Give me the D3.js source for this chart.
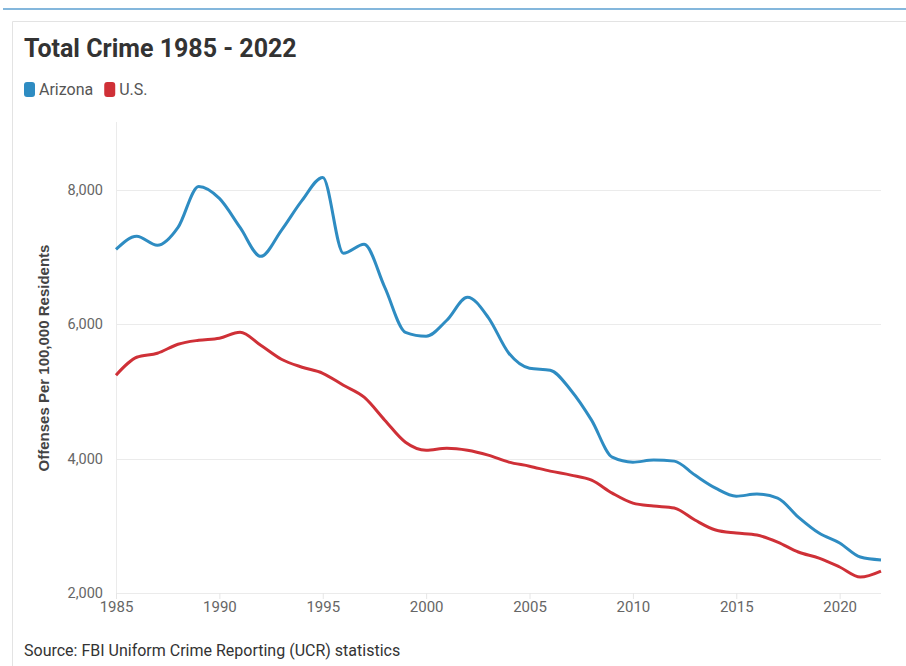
<!DOCTYPE html>
<html>
<head>
<meta charset="utf-8">
<script src="https://cdn.jsdelivr.net/npm/d3@7"></script>
<style>
  html, body { margin: 0; padding: 0; background: #fff; }
  body { width: 906px; height: 666px; overflow: hidden; font-family: Roboto, "Noto Sans", sans-serif; }
</style>
</head>
<body>
<div id="chart"></div>
<script>
const years = d3.range(1985, 2023);
const arizona = [7115, 7309, 7175, 7442, 8052, 7874, 7442, 7011, 7398, 7844,
  8186, 7056, 7190, 6550, 5881, 5822, 6060, 6402, 6104, 5569,
  5346, 5316, 5019, 4573, 4022, 3948, 3978, 3963, 3755, 3561,
  3442, 3472, 3413, 3130, 2892, 2744, 2535, 2491];
const us = [5242, 5509, 5569, 5703, 5762, 5792, 5881, 5688, 5480, 5361,
  5271, 5093, 4915, 4573, 4245, 4126, 4156, 4126, 4052, 3948,
  3888, 3814, 3755, 3680, 3487, 3338, 3294, 3264, 3086, 2937,
  2892, 2862, 2758, 2610, 2520, 2387, 2238, 2327];
const yTicks = [2000, 4000, 6000, 8000];
const xTicks = [1985, 1990, 1995, 2000, 2005, 2010, 2015, 2020];
const series = [
  { name: 'Arizona', values: arizona, color: '#2e8cc2' },
  { name: 'U.S.', values: us, color: '#cf3037' }
];

const W = 906, H = 666;
const svg = d3.select('#chart').append('svg')
  .attr('width', W).attr('height', H);

// top accent line and card border
svg.append('line').attr('x1', 3).attr('x2', W).attr('y1', 9).attr('y2', 9)
  .attr('stroke', '#5b9fd0').attr('stroke-width', 1.5);
svg.append('path').attr('d', `M12.5,${H} V21.5 H${W}`)
  .attr('fill', 'none').attr('stroke', '#e3e3e3').attr('stroke-width', 1);

svg.append('text').attr('x', 24).attr('y', 57)
  .style('font-size', '25px').style('font-weight', 'bold').attr('fill', '#333')
  .text('Total Crime 1985 - 2022');

// legend
const leg = svg.append('g').attr('transform', 'translate(24,82)');
let lx = 0;
series.forEach(s => {
  leg.append('rect').attr('x', lx).attr('y', 0).attr('width', 11).attr('height', 15)
    .attr('rx', 3).attr('fill', s.color);
  const t = leg.append('text').attr('x', lx + 15).attr('y', 13)
    .style('font-size', '16px').attr('fill', '#555').text(s.name);
  lx += 15 + t.node().getComputedTextLength() + 11;
});

const x = d3.scaleLinear().domain([1985, 2022]).range([116, 881]);
const y = d3.scaleLinear().domain([2000, 9000]).range([593, 122.75]);

// grid
svg.append('g').selectAll('line').data(yTicks).join('line')
  .attr('x1', 116).attr('x2', 881)
  .attr('y1', d => Math.round(y(d)) + 0.5).attr('y2', d => Math.round(y(d)) + 0.5)
  .attr('stroke', '#ebebeb');
svg.append('line').attr('x1', 116.5).attr('x2', 116.5).attr('y1', 122).attr('y2', 593)
  .attr('stroke', '#ebebeb');

// y axis
const yAxis = svg.append('g').attr('transform', 'translate(116,0)')
  .call(d3.axisLeft(y).tickValues(yTicks).tickSize(0).tickPadding(13).tickFormat(d3.format(',')));
yAxis.select('.domain').remove();
yAxis.selectAll('text').style('font-size', '14.5px').style('font-family', 'Roboto').attr('fill', '#666');

// x axis
const xAxis = svg.append('g').attr('transform', 'translate(0,593)')
  .call(d3.axisBottom(x).tickValues(xTicks).tickSize(6).tickPadding(2).tickFormat(d3.format('d')));
xAxis.select('.domain').remove();
xAxis.selectAll('line').attr('stroke', '#e6e6e6');
xAxis.selectAll('text').style('font-size', '15px').style('font-family', 'Roboto').attr('fill', '#666');

svg.append('text')
  .attr('transform', 'translate(49,358) rotate(-90)')
  .attr('text-anchor', 'middle')
  .style('font-size', '15px').style('font-weight', 'bold')
  .style('font-family', '"Liberation Sans", Arial, sans-serif').attr('fill', '#444')
  .text('Offenses Per 100,000 Residents');

// lines
const line = d3.line()
  .curve(d3.curveMonotoneX)
  .x((d, i) => x(years[i]))
  .y(d => y(d));
series.forEach(s => {
  svg.append('path').datum(s.values)
    .attr('fill', 'none').attr('stroke', s.color)
    .attr('stroke-width', 3).attr('stroke-linejoin', 'round')
    .attr('d', line);
});

svg.append('text').attr('x', 24).attr('y', 656)
  .style('font-size', '16px').attr('fill', '#333')
  .text('Source: FBI Uniform Crime Reporting (UCR) statistics');
</script>
</body>
</html>
